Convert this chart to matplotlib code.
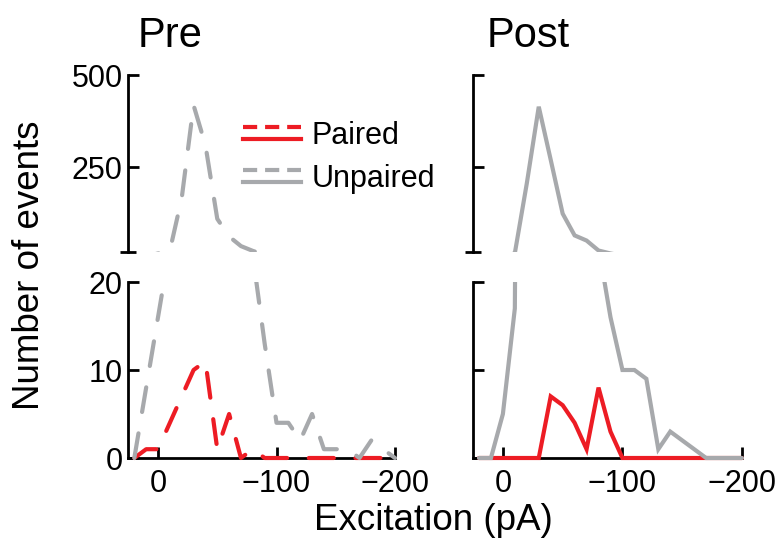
import numpy as np
import matplotlib
matplotlib.use('Agg')
import matplotlib.pyplot as plt
from matplotlib.lines import Line2D
from matplotlib.legend_handler import HandlerBase
from matplotlib.patches import Rectangle

plt.rcParams['font.family'] = ['Liberation Sans', 'DejaVu Sans']

# excitation bins (pA)
bins = [20, 10, 0, -10, -20, -30, -40, -50, -60, -70, -80, -90, -100,
        -110, -120, -130, -140, -150, -160, -170, -180, -190, -200]

pre_unpaired = [0, 8, 16, 24, 166, 418, 310, 110, 62, 36, 23, 13, 4,
                4, 2, 5, 1, 1, 1, 0, 2, 1, 0]
pre_paired = [0, 1, 1, 4, 7, 10, 11, 1, 5, 0, 1, 0, 0,
              0, 0, 0, 0, 0, 0, 0, 0, 0, 0]
post_unpaired = [0, 0, 5, 17, 206, 414, 270, 124, 65, 51, 24, 16, 10,
                 10, 9, 1, 3, 2, 1, 0, 0, 0, 0]
post_paired = [0, 0, 0, 0, 0, 0, 7, 6, 4, 1, 8, 3, 0,
               0, 0, 0, 0, 0, 0, 0, 0, 0, 0]

titles = ['Pre', 'Post']
red = '#ED1C24'
gray = '#A7A9AC'
lw = 3
dash = (6.0, 5.2)

W, H = 784, 544
fig = plt.figure(figsize=(W / 100, H / 100), dpi=100)


def fpos(x0, x1, ytop, ybot):
    return [x0 / W, 1 - ybot / H, (x1 - x0) / W, (ybot - ytop) / H]


cols = [(128.4, 395), (473, 742)]
series = [(pre_paired, pre_unpaired, '--'), (post_paired, post_unpaired, '-')]

for i, (x0, x1) in enumerate(cols):
    ax_t = fig.add_axes(fpos(x0, x1, 75, 252))
    ax_b = fig.add_axes(fpos(x0, x1, 282, 458))
    paired, unpaired, ls = series[i]
    for ax in (ax_t, ax_b):
        for vals, c in ((paired, red), (unpaired, gray)):
            ln, = ax.plot(bins, vals, color=c, lw=lw, zorder=3,
                          solid_capstyle='round', dash_capstyle='round',
                          solid_joinstyle='miter')
            if ls == '--':
                ln.set_dashes(dash)
            if ax is ax_b:
                # let the zero line sit on top of the x axis
                ln.set_clip_path(Rectangle((-0.02, -0.03), 1.04, 1.03,
                                           transform=ax.transAxes))
        ax.set_xlim(25, -200)
        for s in ('top', 'right'):
            ax.spines[s].set_visible(False)
        ax.spines['left'].set_linewidth(2)
        ax.spines['bottom'].set_linewidth(2)
        ax.tick_params(axis='both', direction='in', length=8, width=2,
                       labelsize=22, pad=4)
    ax_t.set_ylim(20, 500)
    ax_t.set_yticks([250, 500])
    ax_t.set_yticks([20], minor=True)
    ax_t.tick_params(axis='y', which='minor', direction='inout', length=12, width=2)
    ax_t.spines['bottom'].set_visible(False)
    ax_t.set_xticks([])
    ax_b.set_ylim(0, 20)
    ax_b.set_yticks([0, 10, 20])
    ax_b.set_xticks([0, -100, -200])
    ax_b.tick_params(axis='x', pad=8)
    if i == 1:
        ax_t.set_yticklabels([])
        ax_b.set_yticklabels([])
    fig.text((x0 + 9 + 5 * i) / W, 1 - 47 / H, titles[i], fontsize=30,
             ha='left', va='baseline')


class PairHandler(HandlerBase):
    def create_artists(self, legend, orig_handle, xdescent, ydescent,
                       width, height, fontsize, trans):
        c = orig_handle
        off = 0.2 * fontsize
        yc = height / 2 - ydescent
        xs = [-xdescent, -xdescent + width]
        top = Line2D(xs, [yc + off] * 2, color=c, lw=lw)
        top.set_dashes((3.4, 1.9))
        bot = Line2D(xs, [yc - off] * 2, color=c, lw=lw)
        for a in (top, bot):
            a.set_transform(trans)
        return [top, bot]


leg = fig.legend([red, gray], ['Paired', 'Unpaired'],
                 handler_map={str: PairHandler()},
                 loc='upper left', bbox_to_anchor=(243 / W, 1 - 121 / H),
                 frameon=False, fontsize=22, handlelength=1.9,
                 handletextpad=0.35, labelspacing=0.42, borderpad=0,
                 borderaxespad=0)

fig.text(433 / W, 1 - 521 / H, 'Excitation (pA)', fontsize=26.5,
         ha='center', va='center')
fig.text(30 / W, 1 - 265 / H, 'Number of events', fontsize=26.5,
         ha='center', va='center', rotation=90)

fig.savefig('out.png', dpi=100)
